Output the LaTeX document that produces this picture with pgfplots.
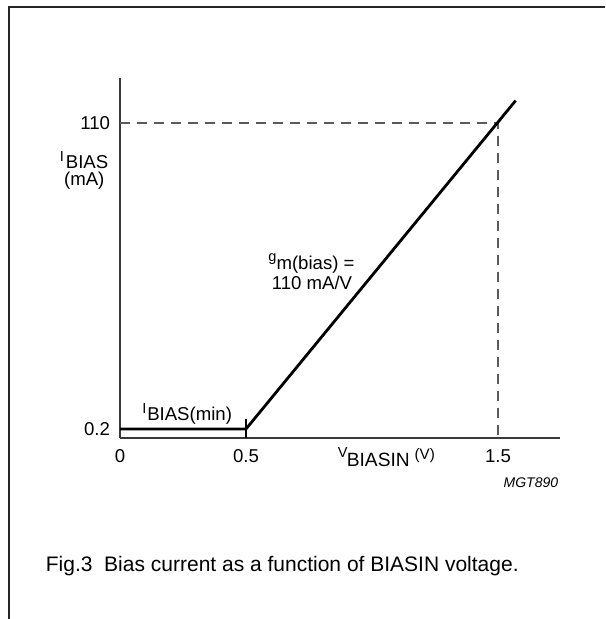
\documentclass[border=0pt]{standalone}
\usepackage{fontspec}
\setmainfont{Liberation Sans}
\usepackage{pgfplots}
\pgfplotsset{compat=1.18}
\definecolor{axgray}{HTML}{3A3A3A}
\definecolor{dashgray}{HTML}{5A5A5A}
\newcommand{\fs}[1]{\fontsize{#1}{#1}\selectfont}
\begin{document}
\begin{tikzpicture}[x=0.5pt,y=0.5pt]
\useasboundingbox (0,0) rectangle (605,619);
\draw[line width=1pt, black!85] (8.5,0) -- (8.5,611.5) -- (605,611.5);
\begin{axis}[at={(60pt,90.65pt)}, anchor=south west, scale only axis,
  width=220pt, height=179.85pt,
  xmin=0, xmax=1.746, ymin=-2.92, ymax=126,
  axis lines=left, axis line style={-, draw=axgray, line width=0.9pt},
  xtick={0,0.5,1.5}, xticklabels={0,0.5,1.5},
  ytick={0.2,110}, yticklabels={0.2,110},
  major tick length=0pt,
  tick label style={font=\fs{9.3}},
  xticklabel style={yshift=-2.3pt},
  yticklabel style={xshift=-1.5pt},
  clip=false]
\addplot[dashgray, line width=0.9pt, dash pattern=on 5pt off 3.5pt] coordinates {(0,110) (1.5,110) (1.5,-2.92)};
\addplot[black, line width=0.6pt] coordinates {(0.5,3.8) (0.5,-2.92)};
\addplot[black, line width=1.4pt] coordinates {(0,0.2) (0.5,0.2) (1.57,117.9)};
\end{axis}
\node[anchor=base west, inner sep=0] at (59.4,{619-169}) {\fs{7.3}\raisebox{3.6pt}{I}\hspace{1pt}\fs{9.3}BIAS};
\node[anchor=base west, inner sep=0] at (63.7,{619-186}) {\fs{9.3}(mA)};
\node[anchor=base west, inner sep=0] at (142,{619-420.5}) {\fs{7.3}\raisebox{3.7pt}{I}\hspace{0.4pt}\fs{9.3}BIAS(min)};
\node[anchor=base west, inner sep=0] at (337.5,{619-467}) {\fs{7.3}\raisebox{4.8pt}{V}\hspace{-0.4pt}\fs{9.6}BIASIN\hspace{2.4pt}\fs{7.6}\raisebox{3.5pt}{(V)}};
\node[anchor=base east, inner sep=0] at (558.5,{619-488}) {\fs{7}\itshape MGT890};
\node[anchor=base, inner sep=0] at (311.5,{619-270}) {\fs{7.3}\raisebox{4pt}{g}\fs{9.3}m(bias) =};
\node[anchor=base, inner sep=0] at (312,{619-290}) {\fs{9.3}110 mA/V};
\node[anchor=base west, inner sep=0] at (45.5,{619-572}) {\fs{10.5}Fig.3\ \ Bias current as a function of BIASIN voltage.};
\end{tikzpicture}
\end{document}
